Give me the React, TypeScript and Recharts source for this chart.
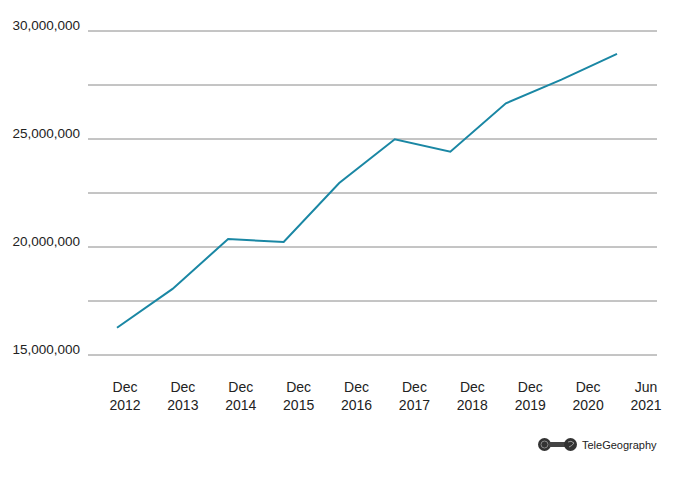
import { LineChart, Line, XAxis, YAxis, CartesianGrid } from 'recharts';

const periods = ['Dec 2012', 'Dec 2013', 'Dec 2014', 'Dec 2015', 'Dec 2016', 'Dec 2017', 'Dec 2018', 'Dec 2019', 'Dec 2020', 'Jun 2021'];
const capacity = [16260000, 18060000, 20370000, 20230000, 22960000, 24990000, 24410000, 26650000, 27750000, 28940000];
const yTicks = [15000000, 17500000, 20000000, 22500000, 25000000, 27500000, 30000000];

const data = periods.map((period, i) => ({ period, value: capacity[i] }));

const FONT = '"Liberation Sans", Arial, Helvetica, sans-serif';

function PeriodTick({ x, y, payload }: any) {
  const [mon, yr] = String(payload.value).split(' ');
  return (
    <text x={x} y={y} textAnchor="middle" fontFamily={FONT} fontSize={14} fill="#222">
      <tspan x={x} dy={1}>{mon}</tspan>
      <tspan x={x} dy={18}>{yr}</tspan>
    </text>
  );
}

function ValueTick({ x, y, payload }: any) {
  if (payload.value % 5000000 !== 0) return null;
  return (
    <text x={x} y={y} dy={-1} textAnchor="end" fontFamily={FONT} fontSize={13.5} fill="#222">
      {payload.value.toLocaleString('en-US')}
    </text>
  );
}

function Logo() {
  return (
    <div style={{ position: 'absolute', left: 537, top: 437, display: 'flex', alignItems: 'center', fontFamily: FONT, fontSize: 11, color: '#222' }}>
      <svg width={41} height={15} style={{ marginRight: 4 }}>
        <circle cx={7.5} cy={7.5} r={6.5} fill="#333" />
        <circle cx={7.5} cy={7.5} r={3.5} fill="none" stroke="#888" strokeWidth={1} />
        <rect x={12} y={5} width={17} height={5} fill="#444" />
        <circle cx={33.5} cy={7.5} r={6.5} fill="#333" />
        <path d="M31 5 Q34 3 37 6 Q35 9 32 10" fill="none" stroke="#999" strokeWidth={1} />
      </svg>
      <span>TeleGeography</span>
    </div>
  );
}

export default function App() {
  return (
    <div style={{ position: 'absolute', left: 0, top: 0, width: 678, height: 484, background: '#fff' }}>
      <LineChart width={678} height={484} data={data} margin={{ top: 31, right: 21, bottom: 79, left: 0 }}>
        <CartesianGrid vertical={false} stroke="#8a8a8a" strokeWidth={1} />
        <XAxis xAxisId="data" dataKey="period" hide padding={{ left: 29, right: 40 }} />
        <XAxis
          xAxisId="labels"
          dataKey="period"
          height={50}
          axisLine={false}
          tickLine={false}
          interval={0}
          padding={{ left: 37, right: 11 }}
          tick={<PeriodTick />}
          tickMargin={0}
        />
        <YAxis
          width={88}
          domain={[15000000, 30000000]}
          ticks={yTicks}
          interval={0}
          axisLine={false}
          tickLine={false}
          tickSize={0}
          tickMargin={8}
          tick={<ValueTick />}
        />
        <Line
          xAxisId="data"
          type="linear"
          dataKey="value"
          stroke="#1a87a4"
          strokeWidth={2}
          dot={false}
          isAnimationActive={false}
        />
      </LineChart>
      <Logo />
    </div>
  );
}
